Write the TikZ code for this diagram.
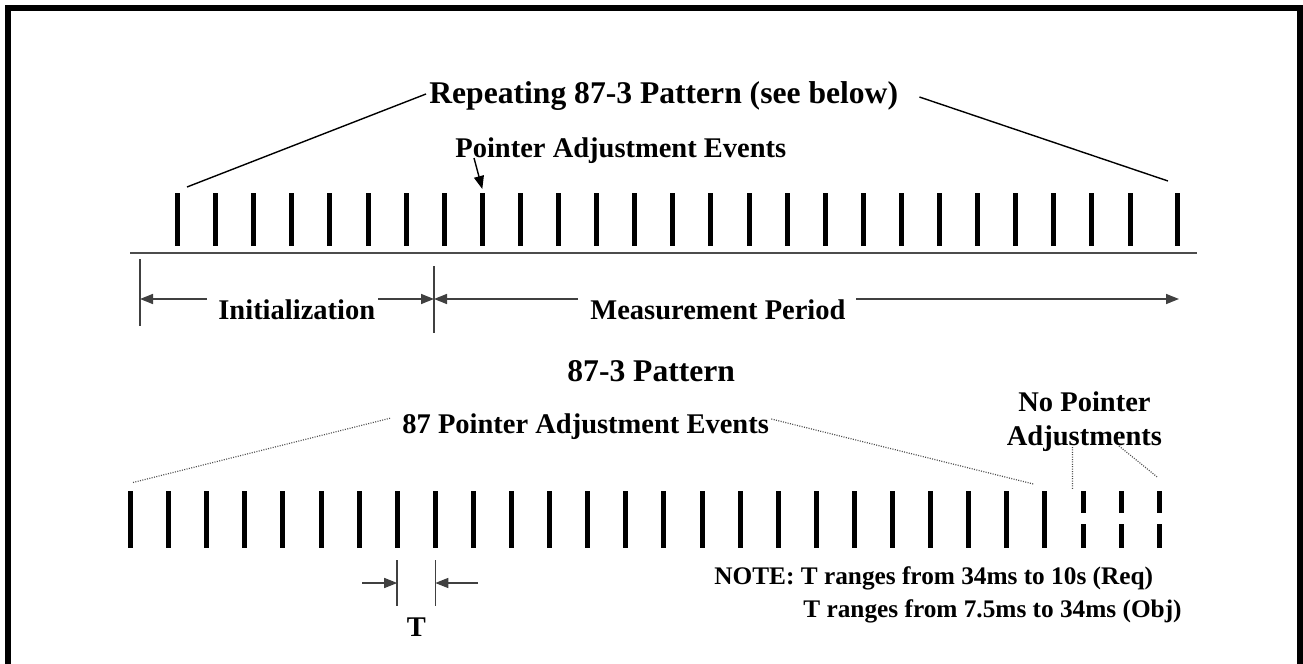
\documentclass[tikz,border=0pt]{standalone}
\usepackage{fontspec}
\setmainfont{Liberation Serif}
\usetikzlibrary{arrows.meta,positioning}

\begin{document}
\begin{tikzpicture}[x=0.5pt, y=-0.5pt, >={Triangle[length=6.5pt,width=5pt]},
  lbl/.style={font=\bfseries\fontsize{14.25}{17}\selectfont, inner sep=0pt, anchor=base west},
  hdr/.style={lbl, font=\bfseries\fontsize{15.8}{19}\selectfont},
  notetxt/.style={lbl, font=\bfseries\fontsize{12.65}{15}\selectfont},
  evtick/.style={line width=2.5pt},
  dim/.style={line width=0.75pt, black!75},
  lead/.style={line width=0.7pt},
  dotlead/.style={line width=0.6pt, black!70, dash pattern=on 0.5pt off 0.7pt}]
\useasboundingbox (0,0) rectangle (1303,664);
\begin{scope}
\clip (0,0) rectangle (1303,664);
\draw[line width=3pt] (8,8) rectangle (1300,700);
\end{scope}
% upper time line
\foreach \i in {0,...,25} \coordinate (a\i) at ({177.5+38.1*\i},193);
\coordinate (a26) at (1177.5,193);
\foreach \i in {0,...,26} \draw[evtick] (a\i) -- ++(0,53);
\coordinate (base0) at (130,253);
\coordinate (base1) at (1197,253);
\draw[line width=1.2pt, black!70] (base0) -- (base1);
\node[hdr] (rep) at (429,103) {Repeating 87-3 Pattern (see below)};
\draw[lead] ([shift={(9.5,-6)}]a0) -- ([shift={(-3,-9)}]rep.base west);
\draw[lead] ([shift={(21,-6)}]rep.base east) -- ([shift={(-9.5,-12)}]a26);
\node[lbl] (pae) at (455,157) {Pointer Adjustment Events};
\draw[lead,->] ([shift={(19,1)}]pae.base west) -- ([shift={(0,-4)}]a8);
% initialization / measurement
\coordinate (i0) at (140,259);
\coordinate (m0) at (434,266);
\draw[dim] (i0) -- ++(0,67);
\draw[dim] (m0) -- ++(0,67);
\node[lbl] (init) at (218,319) {Initialization};
\node[lbl] (meas) at (590,319) {Measurement Period};
\coordinate (i1) at (207,299);
\coordinate (i2) at (378,299);
\coordinate (m1) at (578,299);
\coordinate (m2) at (856,299);
\coordinate (mend) at (1179,299);
\draw[dim,->] (i1) -- (i0 |- i1);
\draw[dim,->] (i2) -- (m0 |- i2);
\draw[dim,->] (m1) -- (m0 |- m1);
\draw[dim,->] (m2) -- (mend);
% 87-3 pattern
\node[hdr] (pat) at (567,381) {87-3 Pattern};
\node[lbl] (pae87) at (402,433) {87 Pointer Adjustment Events};
\node[lbl, anchor=base] (nop1) at (1084.5,411.7) {No Pointer};
\node[lbl, anchor=base] (nop2) at (1084.5,445) {Adjustments};
\foreach \i in {0,...,27} \coordinate (b\i) at ({130.5+38.1*\i},491);
\foreach \i in {0,...,24} \draw[evtick] (b\i) -- ++(0,57);
\foreach \i in {25,26,27} \draw[evtick] (b\i) -- ++(0,22) ++(0,11) -- ++(0,24);
\draw[dotlead] ([shift={(2.5,-8.5)}]b0) -- ([shift={(-11,-15)}]pae87.base west);
\draw[dotlead] ([shift={(2,-14)}]pae87.base east) -- ([shift={(-11.5,-7)}]b24);
\draw[dotlead] ([shift={(-12,2)}]nop2.base) -- ([shift={(-10.5,-1)}]b25);
\draw[dotlead] ([shift={(34.5,1)}]nop2.base) -- ([shift={(-2,-14)}]b27);
% period T
\coordinate (t0) at (397.2,560);
\coordinate (t1) at (435.3,560);
\draw[dim] (t0) -- ++(0,46);
\draw[dim] (t1) -- ++(0,46);
\coordinate (tl) at (362,583);
\coordinate (tr) at (478,583);
\draw[dim,->] (tl) -- (t0 |- tl);
\draw[dim,->] (tr) -- (t1 |- tr);
\node[lbl, anchor=base] (tlab) at (416.3,636) {T};
\node[notetxt] (note1) at (714,584) {NOTE: T ranges from 34ms to 10s (Req)};
\node[notetxt] (note2) at (803,617) {T ranges from 7.5ms to 34ms (Obj)};
\end{tikzpicture}
\end{document}
